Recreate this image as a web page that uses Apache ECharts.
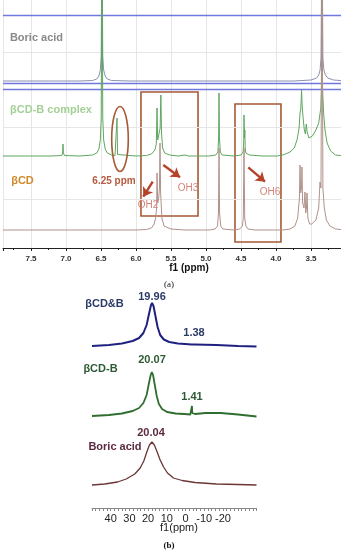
<!DOCTYPE html>
<html><head><meta charset="utf-8">
<script src="https://cdn.jsdelivr.net/npm/echarts@6/dist/echarts.min.js"></script>
<style>html,body{margin:0;padding:0;background:#fff}#c{width:341px;height:550px}</style>
</head><body><div id="c"></div>
<script>
// ---------- Panel (a): 1H NMR, x in ppm, y in relative intensity units ----------
const tickLabelsA = ['7.5','7.0','6.5','6.0','5.5','5.0','4.5','4.0','3.5'];
const boricA = [[7.9,167],[7.22,167],[7.06,167],[7.045,168.5],[7.03,167],[6.8,167],[6.62,167.5],[6.56,169],[6.53,172],[6.51,178],[6.497,192],[6.486,330],[6.475,192],[6.462,178],[6.44,172],[6.41,169],[6.35,167.5],[6.1,167],[5.0,167],[3.75,167],[3.5,168],[3.42,170],[3.39,173],[3.37,178],[3.357,190],[3.343,330],[3.33,190],[3.316,178],[3.295,173],[3.26,170],[3.18,168],[3.0,167]];
const complexA = [[7.9,92],[7.3,92],[7.21,92],[7.2,94],[7.19,92],[7.06,92.5],[7.048,95],[7.043,104],[7.037,95],[7.02,92.5],[6.8,92],[6.62,93],[6.56,95],[6.53,99],[6.51,108],[6.497,130],[6.486,330],[6.475,130],[6.462,108],[6.44,99],[6.41,95],[6.35,93],[6.3,92.5],[6.278,93.5],[6.271,130],[6.264,93.5],[6.24,92.5],[6.0,92],[5.85,92.5],[5.78,94],[5.73,98],[5.71,104],[5.7,140],[5.69,108],[5.67,110],[5.655,120],[5.645,153],[5.635,115],[5.62,100],[5.59,95],[5.52,93],[5.4,92],[5.3,93],[5.25,92],[5.1,92],[4.95,92],[4.86,93],[4.83,96],[4.82,110],[4.814,155],[4.808,110],[4.795,96],[4.77,93],[4.6,92],[4.5,93],[4.47,96],[4.462,105],[4.457,133],[4.45,110],[4.445,118],[4.44,100],[4.43,95],[4.38,93],[4.2,92],[3.98,92],[3.88,93.5],[3.8,96],[3.74,100],[3.7,108],[3.67,120],[3.657,135],[3.645,140],[3.635,158],[3.625,140],[3.61,128],[3.595,118],[3.58,114],[3.567,124],[3.555,116],[3.53,110],[3.51,110],[3.48,112],[3.43,118],[3.39,125],[3.36,140],[3.35,160],[3.343,330],[3.336,160],[3.32,135],[3.3,118],[3.27,105],[3.22,97],[3.15,93],[3.0,92]];
const betaCDA = [[7.9,18],[6.0,18],[5.85,18.5],[5.78,20],[5.74,24],[5.72,30],[5.705,40],[5.7,75],[5.69,45],[5.675,50],[5.665,60],[5.657,105],[5.648,55],[5.63,30],[5.6,22],[5.5,19],[5.3,18],[4.95,18],[4.87,19],[4.835,22],[4.822,35],[4.814,100],[4.806,35],[4.79,22],[4.76,19],[4.6,18],[4.52,19],[4.48,22],[4.467,30],[4.457,100],[4.447,30],[4.43,22],[4.4,19],[4.3,18],[3.9,18],[3.8,19],[3.73,22],[3.69,30],[3.665,50],[3.657,83],[3.648,55],[3.635,60],[3.629,81],[3.62,45],[3.6,40],[3.586,56],[3.575,35],[3.565,40],[3.557,55],[3.545,30],[3.52,24],[3.49,24],[3.43,28],[3.39,40],[3.371,66],[3.357,60],[3.343,330],[3.33,60],[3.31,40],[3.28,28],[3.23,22],[3.15,19],[3.0,18]];
const namesA = ['Boric acid','βCD-B complex','βCD'];
const annotA = ['6.25 ppm','OH2','OH3','OH6'];
const separatorLevelsA = [233,165,159];
const gridLevelsA = [196,121,49];
const boxesA = [[[5.929,156],[5.114,32]],[[4.586,144],[3.929,6]]];
const arrowsA = [[[5.61,83],[5.371,70.7]],[[5.761,66.3],[5.896,51.3]],[[4.396,80.7],[4.157,66.3]]];

// ---------- Panel (b): 11B NMR ----------
const tickLabelsB = ['40','30','20','10','0','-10','-20'];
const cdbB = [[47.9,162],[40,163],[34,164.5],[29,167],[26,170],[24,175],[22.5,183],[21.3,195],[20.5,202.5],[19.96,205],[19.3,202],[18.4,192],[17.4,181],[16.2,173],[14.5,168.5],[12,166],[8,164.5],[3,163.8],[1.6,163.5],[1.38,165.5],[1.2,163.5],[0,163.5],[-10,163],[-20,162],[-28.6,161.5]];
const complexB = [[47.9,92],[40,93],[34,94.5],[29,97],[26,100],[24,105],[22.5,113],[21.4,125],[20.6,133],[20.07,136],[19.5,133],[18.7,123],[17.8,112],[16.8,104],[15.3,99],[13,96],[9,94.5],[5,94],[2.2,93.5],[1.6,95],[1.41,102],[1.3,95],[1.1,93.5],[0,94],[-5,95],[-12,95],[-20,93.5],[-28.6,91.5]];
const boricB = [[47.9,23],[42,24],[36,26],[32,29],[28,34],[25.5,40],[23.8,47],[22.4,56],[21.2,63],[20.04,66],[18.9,63],[17.6,56],[16.2,48],[14.6,41],[12.8,35],[10,30],[6,27.5],[0,25.5],[-10,24],[-20,23.5],[-28.6,23]];
const namesB = ['βCD&B','βCD-B','Boric acid'];
const peakLabelsB = ['19.96','1.38','20.07','1.41','20.04'];

const SANS = '"Liberation Sans", Arial, sans-serif';
const SERIF = '"Liberation Serif", "Times New Roman", serif';
function txt(t, x, y, color, size, weight, fam) {
  return {type:'text', x:x, y:y, z:100, style:{text:t, fill:color, font:(weight||'normal')+' '+size+'px '+(fam||SANS), align:'center', verticalAlign:'middle', textAlign:'center', textVerticalAlign:'middle'}};
}

const chart = echarts.init(document.getElementById('c'), null, {renderer:'canvas'});
chart.setOption({
  animation:false,
  backgroundColor:'#fff',
  grid:[{left:3, top:0, width:343, height:248, outerBoundsMode:'none', containLabel:false},
        {left:92, top:290, width:164.6, height:218, outerBoundsMode:'none', containLabel:false}],
  xAxis:[
    {gridIndex:0, type:'value', min:3.0, max:7.9, interval:0.5, inverse:true,
     axisLine:{lineStyle:{color:'#222', width:1}},
     axisTick:{length:3, lineStyle:{color:'#222'}},
     minorTick:{show:true, splitNumber:2, length:2, lineStyle:{color:'#222'}},
     axisLabel:{fontSize:8, fontWeight:'bold', color:'#333', margin:7, fontFamily:SANS,
       formatter:v=>{const s=v.toFixed(1); return tickLabelsA.indexOf(s)>=0 && Math.abs(v-parseFloat(s))<1e-6 ? s : '';}},
     splitLine:{show:true, lineStyle:{color:'#e6e6e6', width:1}}},
    {gridIndex:1, type:'value', min:-38, max:50, interval:2, inverse:true,
     axisLine:{lineStyle:{color:'#888', width:1}},
     axisTick:{length:3, lineStyle:{color:'#888'}},
     axisLabel:{interval:0, fontSize:11, color:'#222', margin:5, fontFamily:SANS, hideOverlap:false,
       formatter:v=>{const s=String(Math.round(v)); return tickLabelsB.indexOf(s)>=0 ? s : '';}},
     splitLine:{show:false}},
    {gridIndex:1, type:'value', min:-28.65, max:47.9, inverse:true, show:false}
  ],
  yAxis:[
    {gridIndex:0, type:'value', min:0, max:248, show:false},
    {gridIndex:1, type:'value', min:0, max:218, show:false}
  ],
  series:[
    {name:namesA[0], type:'line', xAxisIndex:0, yAxisIndex:0, data:boricA, showSymbol:false, symbol:'none', clip:true, z:3,
     lineStyle:{color:'#8a90b0', width:1},
     markLine:{silent:true, symbol:['none','none'], label:{show:false}, z:2,
       lineStyle:{color:'#6f78e0', width:1.3, type:'solid'},
       emphasis:{disabled:true},
       data: separatorLevelsA.map(v=>({yAxis:v, lineStyle:{color:'#6f78e0'}}))}},
    {name:namesA[1], type:'line', xAxisIndex:0, yAxisIndex:0, data:complexA, showSymbol:false, symbol:'none', clip:true, z:3,
     lineStyle:{color:'#5fa65f', width:1},
     markLine:{silent:true, symbol:['none','none'], label:{show:false}, z:1,
       lineStyle:{color:'#e6e6e6', width:1, type:'solid'},
       emphasis:{disabled:true},
       data: gridLevelsA.map(v=>({yAxis:v}))},
     markArea:{silent:true, label:{show:false}, itemStyle:{color:'rgba(0,0,0,0)', borderColor:'#a65a35', borderWidth:1.6},
       data: boxesA.map(b=>[{coord:b[0]},{coord:b[1]}])}},
    {name:namesA[2], type:'line', xAxisIndex:0, yAxisIndex:0, data:betaCDA, showSymbol:false, symbol:'none', clip:true, z:3,
     lineStyle:{color:'#b0928a', width:1},
     markLine:{silent:true, symbol:['none','arrow'], symbolSize:9, label:{show:false},
       lineStyle:{color:'#b5432a', width:2.4, type:'solid'},
       emphasis:{disabled:true},
       data: arrowsA.map(a=>[{coord:a[0]},{coord:a[1]}])}},
    {name:namesB[0], type:'line', xAxisIndex:2, yAxisIndex:1, data:cdbB, showSymbol:false, symbol:'none',
     lineStyle:{color:'#1f2180', width:2}},
    {name:namesB[1], type:'line', xAxisIndex:2, yAxisIndex:1, data:complexB, showSymbol:false, symbol:'none',
     lineStyle:{color:'#2f6e2f', width:1.8}},
    {name:namesB[2], type:'line', xAxisIndex:2, yAxisIndex:1, data:boricB, showSymbol:false, symbol:'none',
     lineStyle:{color:'#6b3535', width:1.3}}
  ],
  graphic:[
    {type:'ellipse', z:90, shape:{cx:120, cy:139, rx:8.3, ry:32.5}, style:{fill:'none', stroke:'#a65a35', lineWidth:1.6}},
    txt(namesA[0], 36.5, 38, '#8a8a8a', 11, 'bold'),
    txt(namesA[1], 51, 110, '#a3d096', 11, 'bold'),
    txt(namesA[2], 22.5, 181, '#cf8a2c', 11, 'bold'),
    txt(annotA[0], 114, 181, '#b65a40', 10, 'bold'),
    txt(annotA[1], 148, 205, '#d4847a', 10),
    txt(annotA[2], 188, 188, '#d4847a', 10),
    txt(annotA[3], 270, 192, '#d4847a', 10),
    txt('f1 (ppm)', 189, 268, '#111', 10, 'bold'),
    txt('(a)', 169, 285, '#111', 9, 'normal', SERIF),
    txt(namesB[0], 104.5, 304, '#2b3a67', 11, 'bold'),
    txt(peakLabelsB[0], 152, 297, '#2b3a67', 11, 'bold'),
    txt(peakLabelsB[1], 194, 333, '#2b3a67', 11, 'bold'),
    txt(namesB[1], 100.5, 369, '#2d5a35', 11, 'bold'),
    txt(peakLabelsB[2], 152, 360, '#2d5a35', 11, 'bold'),
    txt(peakLabelsB[3], 192, 397, '#2d5a35', 11, 'bold'),
    txt(namesB[2], 115, 447, '#5c2a40', 11, 'bold'),
    txt(peakLabelsB[4], 151, 433, '#5c2a40', 11, 'bold'),
    txt('f1(ppm)', 179, 528, '#222', 11),
    txt('(b)', 169, 546, '#111', 9, 'bold', SERIF)
  ]
});
</script></body></html>
